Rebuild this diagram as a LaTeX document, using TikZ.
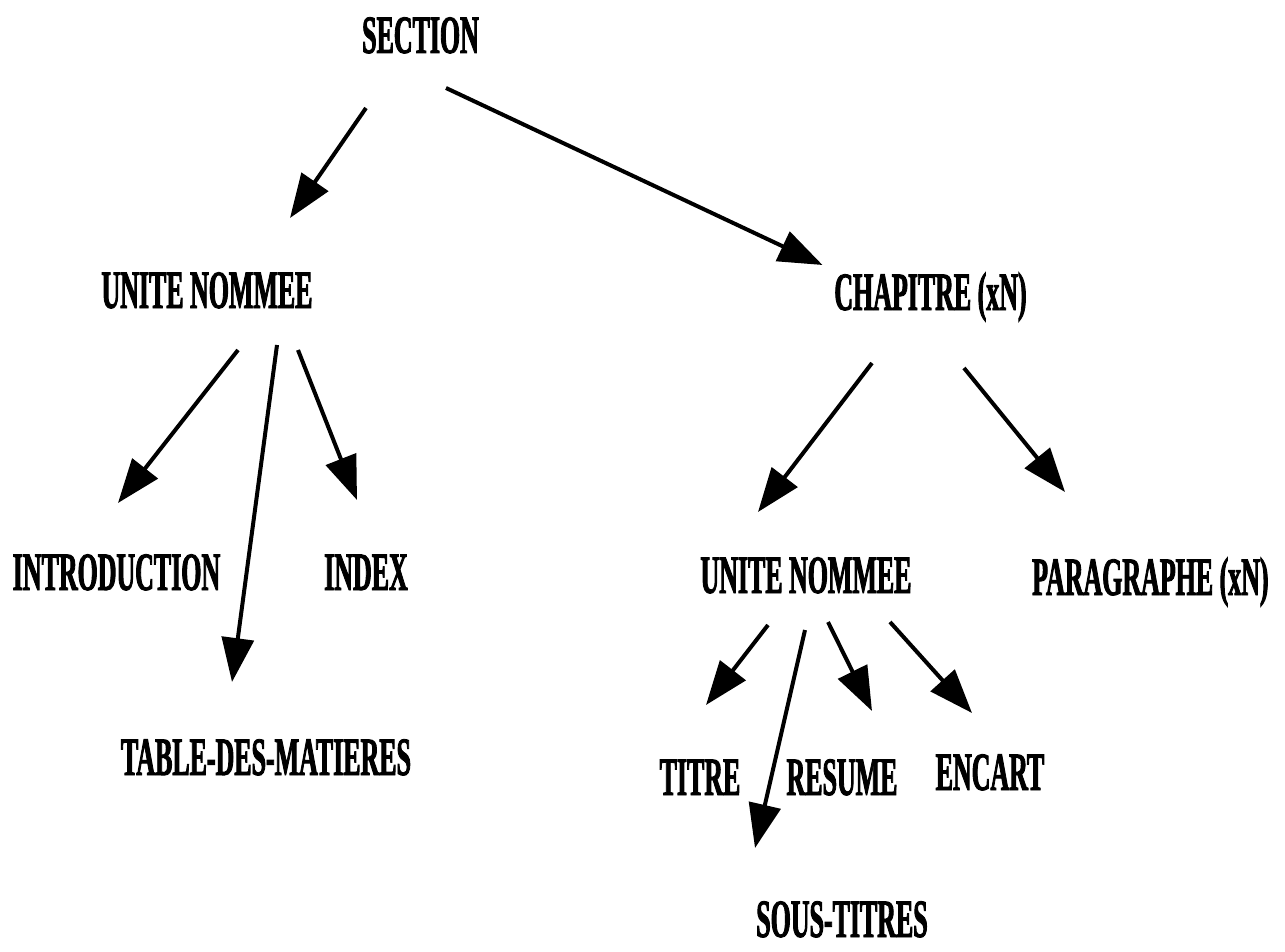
\documentclass[tikz,border=0pt]{standalone}
\usepackage{fontspec}
\newfontfamily\cf{Liberation Serif}[FakeStretch=0.48,FakeBold=1.6]
\usetikzlibrary{arrows.meta}
\begin{document}
\begin{tikzpicture}[x=1pt,y=-1pt,
  lbl/.style={inner sep=0pt,anchor=base,font=\cf\bfseries\fontsize{54}{60}\selectfont},
  arr/.style={line width=4pt,-{Triangle[length=44pt,width=32pt]}}]
\useasboundingbox (0,0) rectangle (1285,952);
\node[lbl] (sec) at (420.5,53) {SECTION};
\node[lbl] (unitL) at (207,308) {UNITE NOMMEE};
\node[lbl] (chap) at (930.5,310) {CHAPITRE (xN)};
\node[lbl] (intro) at (116.5,590) {INTRODUCTION};
\node[lbl] (index) at (366,590) {INDEX};
\node[lbl] (table) at (266,775) {TABLE-DES-MATIERES};
\node[lbl] (unitR) at (806,593) {UNITE NOMMEE};
\node[lbl,anchor=base west] (para) at (1032,595) {PARAGRAPHE (xN)};
\node[lbl] (titre) at (700,795) {TITRE};
\node[lbl] (resume) at (842,795) {RESUME};
\node[lbl] (encart) at (990,790) {ENCART};
\node[lbl] (sous) at (842,937) {SOUS-TITRES};
\draw[arr] ([shift={(-54.5,55)}]sec.base) -- ([shift={(83,-90)}]unitL.base);
\draw[arr] ([shift={(25.5,35)}]sec.base) -- ([shift={(-108,-45)}]chap.base);
\draw[arr] ([shift={(31,42)}]unitL.base) -- ([shift={(1.5,-87)}]intro.base);
\draw[arr] ([shift={(70,37)}]unitL.base) -- ([shift={(-34,-93)}]table.base);
\draw[arr] ([shift={(91,42)}]unitL.base) -- ([shift={(-9,-90)}]index.base);
\draw[arr] ([shift={(-58.5,53)}]chap.base) -- ([shift={(-48,-81)}]unitR.base);
\draw[arr] ([shift={(33.5,58)}]chap.base) -- ([shift={(33,-103)}]para.base west);
\draw[arr] ([shift={(-38,32)}]unitR.base) -- ([shift={(6,-90)}]titre.base);
\draw[arr] ([shift={(-1,37)}]unitR.base) -- ([shift={(-87,-89)}]sous.base);
\draw[arr] ([shift={(22,29)}]unitR.base) -- ([shift={(30,-84)}]resume.base);
\draw[arr] ([shift={(84,29)}]unitR.base) -- ([shift={(-18,-77)}]encart.base);
\end{tikzpicture}
\end{document}
